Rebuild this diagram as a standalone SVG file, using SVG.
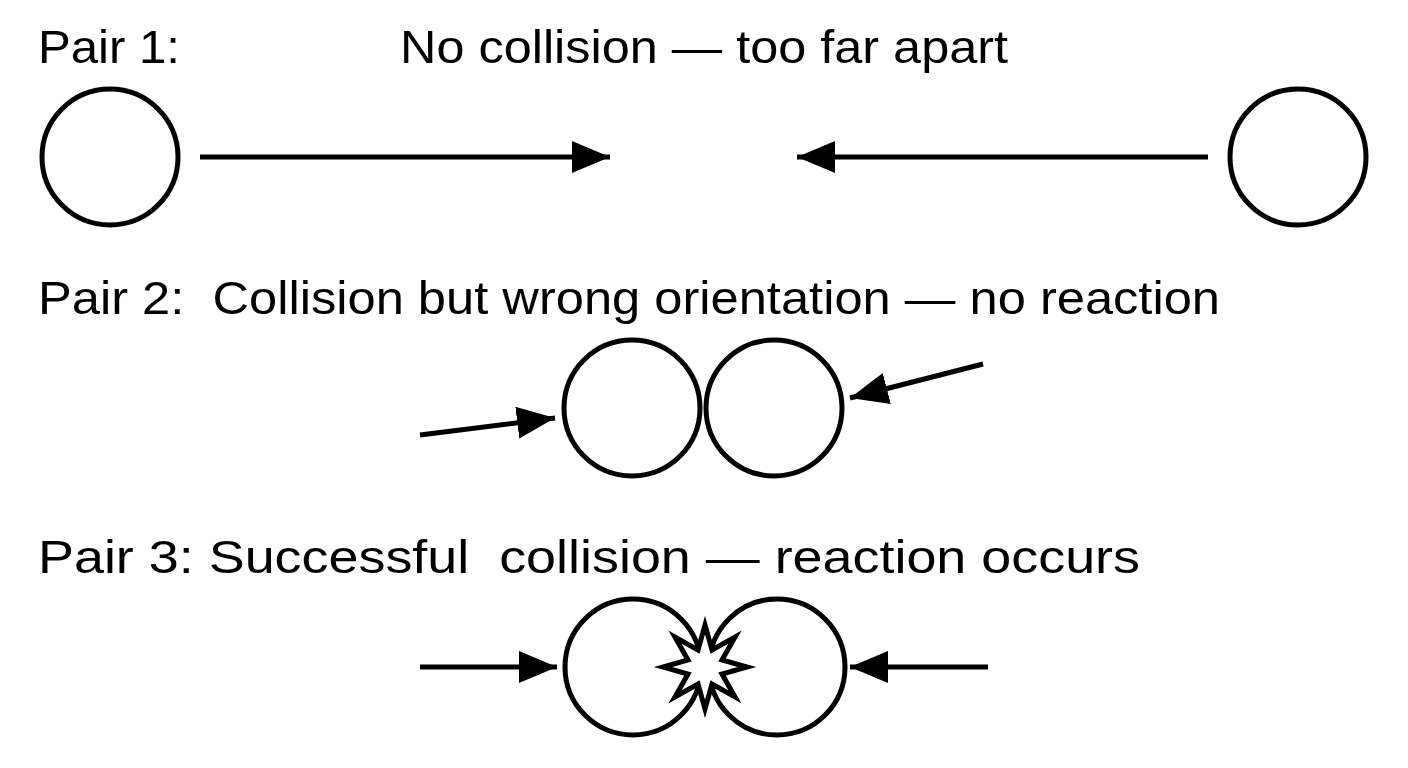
<svg xmlns="http://www.w3.org/2000/svg" width="1408" height="768" viewBox="0 0 1408 768">
<defs>
<marker id="ah" markerUnits="userSpaceOnUse" markerWidth="40" markerHeight="32" refX="38" refY="16" orient="auto"><path d="M0,0 L38,16 L0,32 Z" fill="#000"/></marker>
<style>
.t{font-family:"Liberation Sans",Arial,sans-serif;font-size:47px;fill:#000;white-space:pre}
.c{fill:#fff;stroke:#000;stroke-width:5}
.a{stroke:#000;stroke-width:5;fill:none;marker-end:url(#ah)}
</style>
</defs>
<rect width="1408" height="768" fill="#fff"/>
<g id="labels" xml:space="preserve">
<text class="t" x="38" y="63" textLength="142" lengthAdjust="spacingAndGlyphs">Pair 1:</text>
<text class="t" x="400" y="63" textLength="608" lengthAdjust="spacingAndGlyphs">No collision — too far apart</text>
<text class="t" x="38" y="314" textLength="1182" lengthAdjust="spacingAndGlyphs">Pair 2:  Collision but wrong orientation — no reaction</text>
<text class="t" x="38" y="573" textLength="1102" lengthAdjust="spacingAndGlyphs">Pair 3: Successful  collision — reaction occurs</text>
</g>
<g id="pair1">
<circle class="c" cx="110" cy="157" r="68"/>
<circle class="c" cx="1298" cy="157" r="68"/>
</g>
<g id="pair2">
<circle class="c" cx="632" cy="408" r="68"/>
<circle class="c" cx="774" cy="408" r="68"/>
</g>
<g id="pair3">
<circle class="c" cx="633" cy="667" r="68"/>
<circle class="c" cx="777" cy="667" r="68"/>
<polygon id="star" class="c" stroke-width="4" stroke-linejoin="miter" points="705,625 712,650 735,637 722,660 747,667 722,674 735,697 712,684 705,709 698,684 675,697 688,674 663,667 688,660 675,637 698,650"/>
</g>
<g id="connectors">
<line class="a" x1="200" y1="157" x2="610" y2="157"/>
<line class="a" x1="1208" y1="157" x2="797" y2="157"/>
<line class="a" x1="420" y1="435" x2="555" y2="418"/>
<line class="a" x1="983" y1="364" x2="850" y2="398"/>
<line class="a" x1="420" y1="667" x2="557" y2="667"/>
<line class="a" x1="988" y1="667" x2="850" y2="667"/>
</g>
</svg>
